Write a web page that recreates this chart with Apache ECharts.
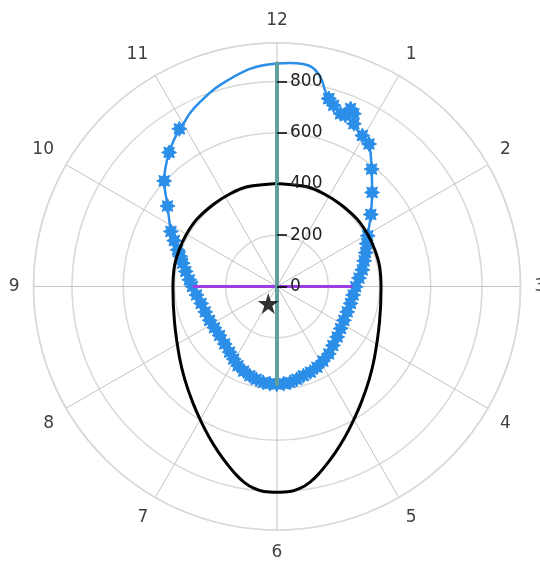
<!DOCTYPE html>
<html><head><meta charset="utf-8">
<script src="https://cdn.jsdelivr.net/npm/echarts@6/dist/echarts.min.js"></script>
<style>html,body{margin:0;padding:0;background:#fff}#c{width:540px;height:561px}</style>
</head><body><div id="c"></div>
<script>
// clock labels (angle axis) and radial tick labels
const hourLabels = ['12','1','2','3','4','5','6','7','8','9','10','11'];
const radiusTicks = [0, 200, 400, 600, 800];
const radiusMax = 950;

// blue series, points with markers (x, y in axis units), clockwise from upper right
const blueMarked = [
  [202,733],[221,707],[248,674],[267,667],[287,694],[300,674],[300,635],[333,589],[359,556],
  [369,458],[371,367],[366,281],[354,198],
  [350,167],[346,132],[340,100],[333,65],[320,33],[307,-1],[297,-33],[287,-66],[274,-99],
  [261,-132],[248,-164],[235,-197],[218,-230],[202,-263],[179,-291],[156,-315],[130,-334],
  [103,-348],[77,-362],[51,-374],[26,-379],[-1,-381],[-28,-379],[-54,-374],[-81,-362],
  [-106,-348],[-130,-330],[-152,-309],[-169,-283],[-185,-256],[-204,-224],[-224,-191],
  [-244,-161],[-263,-132],[-280,-99],[-296,-66],[-314,-33],[-330,0],[-342,26],[-356,59],
  [-368,91],[-378,118],[-388,143],[-401,179],
  [-414,215],[-427,314],[-440,412],[-421,523],[-381,615]
];
// blue series, smooth arc over the top (no markers)
const blueArc = [
  [-359,645],[-339,677],[-300,720],[-250,766],[-191,805],[-118,844],[-58,862],[0,870],
  [51,872],[101,868],[136,856],[160,832],[175,805],[187,766]
];

// black closed curve (right half read clockwise from the top, then left half)
const blackRight = [
  [0,402],[117,389],[181,363],[246,322],[312,263],[355,201],[382,142],[400,80],[406,-6],
  [400,-138],[380,-279],[359,-365],[330,-449],[296,-527],[264,-589],[228,-647],[195,-692],
  [159,-735],[128,-764],[91,-787],[51,-800],[0,-803]
];
const blackLeft = [
  [-51,-800],[-91,-787],[-128,-764],[-159,-735],[-195,-692],[-228,-647],[-264,-589],
  [-296,-527],[-330,-449],[-359,-365],[-380,-279],[-400,-138],[-406,-6],[-400,80],[-382,142],
  [-355,201],[-312,263],[-246,322],[-181,363],[-117,389],[0,402]
];
const purpleLine = [[-329,0],[294,0]];
const tealLine = [[0,877],[0,-387]];
const starPoint = [[-34,-66]];

const font = "'DejaVu Sans', sans-serif";
const cx = 277, cy = 286.5, R = 243.5;
const starMarker = 'path://M20 10 L15.5 12.3 L17.07 17.07 L12.3 15.5 L10 20 L7.7 15.5 L2.93 17.07 L4.5 12.3 L0 10 L4.5 7.7 L2.93 2.93 L7.7 4.5 L10 0 L12.3 4.5 L17.07 2.93 L15.5 7.7 Z';
const fiveStar = 'path://M10 0 L12.25 6.91 L19.51 6.91 L13.63 11.18 L15.88 18.09 L10 13.82 L4.12 18.09 L6.37 11.18 L0.49 6.91 L7.75 6.91 Z';

const blueData = blueMarked.map(p => ({value: p}))
  .concat(blueArc.map(p => ({value: p, symbol: 'none'})))
  .concat([{value: blueMarked[0]}]);
const blackData = blackRight.concat(blackLeft);

const chart = echarts.init(document.getElementById('c'), null, {renderer: 'canvas'});
chart.setOption({
  animation: false,
  backgroundColor: '#ffffff',
  polar: [
    {center: [cx, cy], radius: R},
    {center: [cx, cy], radius: R * radiusTicks[radiusTicks.length - 1] / radiusMax}
  ],
  angleAxis: [
    {polarIndex: 0, type: 'value', min: 0, max: 12, interval: 1, startAngle: 90, clockwise: true,
     axisLine: {lineStyle: {color: '#d9d9d9', width: 1.5}},
     axisTick: {show: false},
     axisLabel: {margin: 14, color: '#404040', fontSize: 17, fontFamily: font,
       formatter: v => hourLabels[Math.round(v) % 12]},
     splitLine: {lineStyle: {color: '#c4c4c4', width: 1}}},
    {polarIndex: 1, type: 'value', min: 0, max: 12, startAngle: 90, show: false}
  ],
  radiusAxis: [
    {polarIndex: 0, min: 0, max: radiusMax, interval: 200,
     axisLine: {show: false}, axisTick: {show: false}, axisLabel: {show: false},
     splitLine: {lineStyle: {color: '#d9d9d9', width: 1.5}}},
    {polarIndex: 1, min: 0, max: 800, interval: 200, z: 10,
     axisLine: {show: false},
     axisTick: {show: true, length: -10, lineStyle: {color: '#000', width: 1.5}},
     axisLabel: {margin: -13, align: 'left', color: '#222', fontSize: 17, fontFamily: font,
       formatter: v => radiusTicks.includes(v) ? String(v) : ''},
     splitLine: {show: false}}
  ],
  grid: {left: cx - R, top: cy - R, width: 2 * R, height: 2 * R, containLabel: false},
  xAxis: {type: 'value', min: -radiusMax, max: radiusMax, show: false},
  yAxis: {type: 'value', min: -radiusMax, max: radiusMax, show: false},
  series: [
    {type: 'line', data: blueData, smooth: 0.35, z: 3,
     symbol: starMarker, symbolSize: 15,
     lineStyle: {color: '#2b8ee8', width: 2.5},
     itemStyle: {color: '#2b8ee8', borderColor: '#2b8ee8', borderWidth: 1}},
    {type: 'line', data: blackData, smooth: 0.35, symbol: 'none', z: 4,
     lineStyle: {color: '#000', width: 3}},
    {type: 'line', data: purpleLine, symbol: 'none', z: 5,
     lineStyle: {color: '#9b3fe3', width: 3}},
    {type: 'line', data: tealLine, symbol: 'none', z: 6,
     lineStyle: {color: '#62a0a0', width: 4}},
    {type: 'scatter', data: starPoint, symbol: fiveStar, symbolSize: 21, z: 7,
     itemStyle: {color: '#000'}}
  ]
});
</script>
</body></html>
